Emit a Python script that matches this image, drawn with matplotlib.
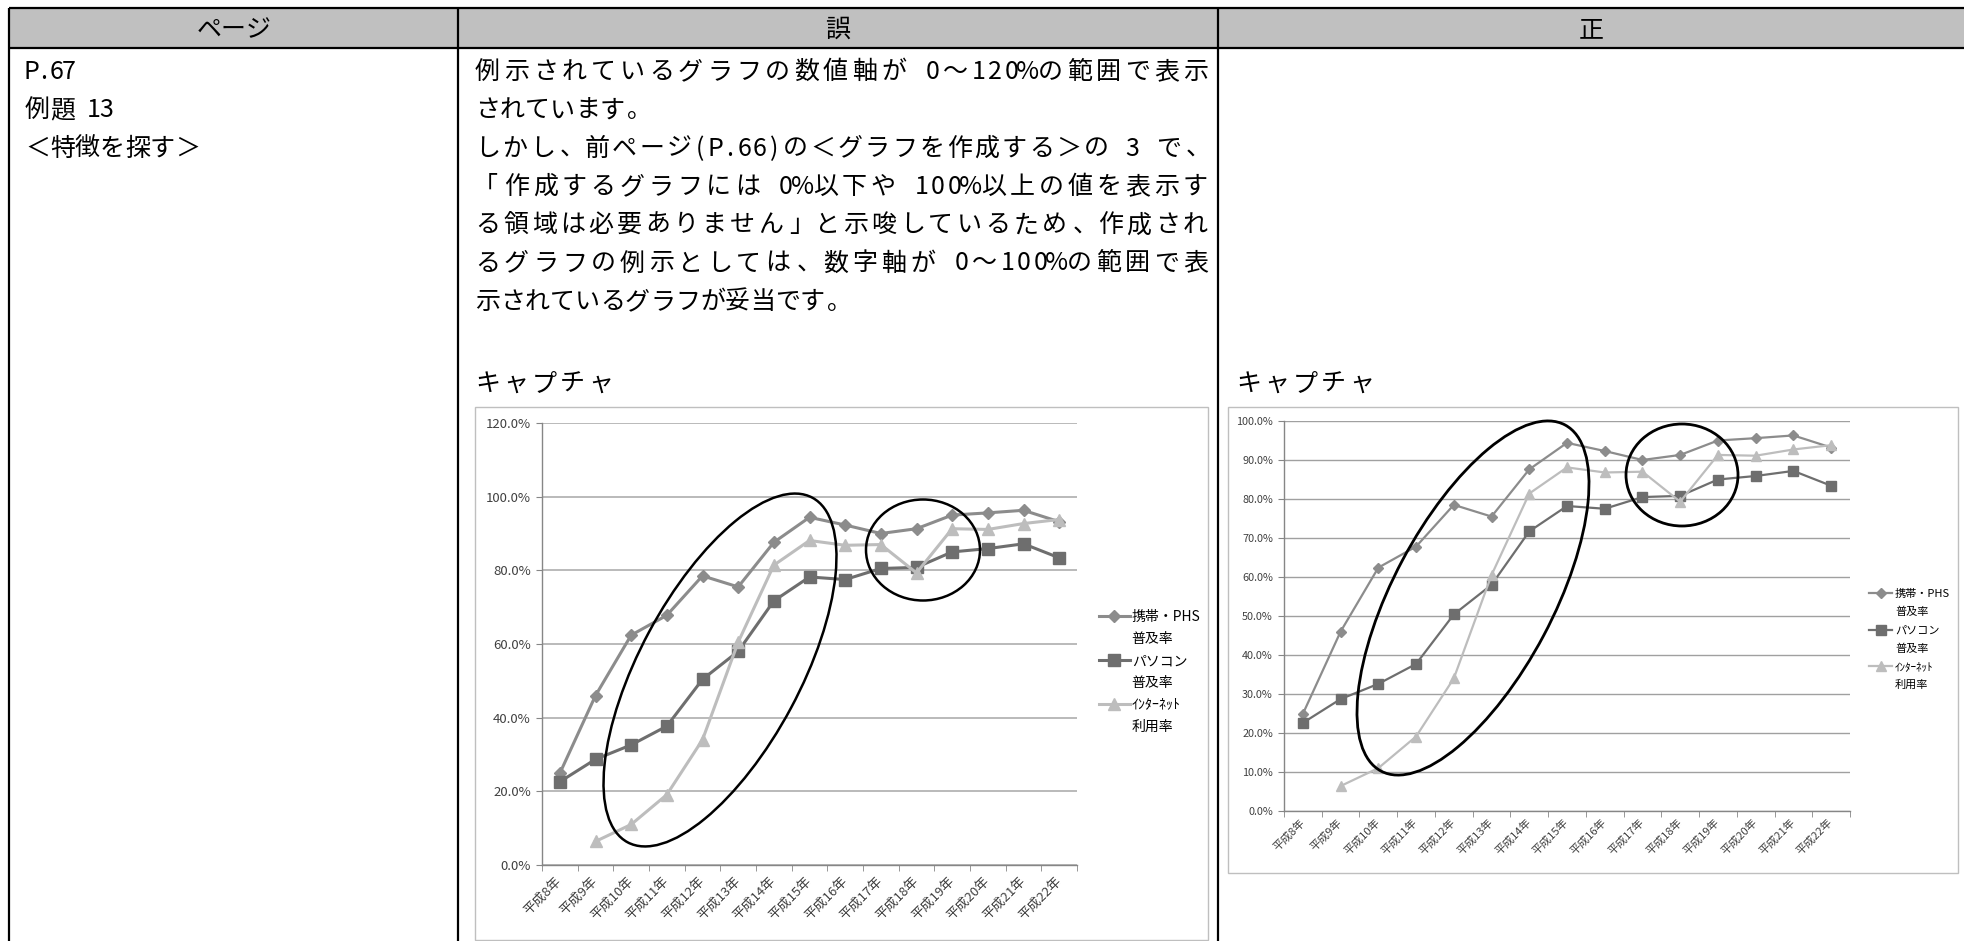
import numpy as np
import matplotlib
matplotlib.use('Agg')
import matplotlib.pyplot as plt
from matplotlib.patches import Ellipse, Rectangle
from matplotlib.lines import Line2D

plt.rcParams['font.family'] = ['Noto Sans CJK JP', 'DejaVu Sans']

# ── data ─────────────────────────────────────────────────────────────────────
years = ['平成8年', '平成9年', '平成10年', '平成11年', '平成12年', '平成13年',
         '平成14年', '平成15年', '平成16年', '平成17年', '平成18年', '平成19年',
         '平成20年', '平成21年', '平成22年']
mobile = [24.9, 46.0, 62.4, 67.8, 78.5, 75.5, 87.6, 94.4, 92.3, 90.0, 91.3, 95.0, 95.6, 96.3, 93.2]
pc = [22.6, 28.7, 32.6, 37.7, 50.4, 58.0, 71.7, 78.2, 77.5, 80.5, 80.8, 85.0, 85.9, 87.2, 83.4]
internet = [np.nan, 6.4, 11.0, 19.1, 34.0, 60.5, 81.4, 88.1, 86.8, 87.0, 79.3, 91.3, 91.1, 92.7, 93.8]

series_names = ['携帯・PHS', 'パソコン', 'ｲﾝﾀｰﾈｯﾄ']
series_sub = ['普及率', '普及率', '利用率']

header = ['ページ', '誤', '正']
page_lines = ['P.67', '例題 13', '＜特徴を探す＞']
wrong_lines = ['例示されているグラフの数値軸が 0〜120%の範囲で表示',
               'されています。',
               'しかし、前ページ(P.66)の＜グラフを作成する＞の 3 で、',
               '「作成するグラフには 0%以下や 100%以上の値を表示す',
               'る領域は必要ありません」と示唆しているため、作成され',
               'るグラフの例示としては、数字軸が 0〜100%の範囲で表',
               '示されているグラフが妥当です。']
justified = [True, False, True, True, True, True, False]
caption = 'キャプチャ'

# ── page layout (pixels) ─────────────────────────────────────────────────────
W, H = 1964, 941
fig = plt.figure(figsize=(W / 100, H / 100), dpi=100)
bg = fig.add_axes([0, 0, 1, 1])
bg.set_xlim(0, W)
bg.set_ylim(H, 0)
bg.axis('off')


def px_rect(x0, y0, x1, y1):
    return [x0 / W, 1 - y1 / H, (x1 - x0) / W, (y1 - y0) / H]


def is_wide(ch):
    o = ord(ch)
    return not (o < 0x80 or 0xFF61 <= o <= 0xFF9F)


def put_line(x0, yc, s, size, x1=None):
    em = size * 100 / 72
    cells = [em if is_wide(c) else em / 2 for c in s]
    gap = 0 if x1 is None else (x1 - x0 - sum(cells)) / (len(s) - 1)
    base = yc + 0.36 * em
    x = x0
    for c, w in zip(s, cells):
        if c in '、。」':
            bg.text(x + 0.1 * em, base, c, fontsize=size, ha='left', va='baseline')
        elif c in '「':
            bg.text(x + w - 0.1 * em, base, c, fontsize=size, ha='right', va='baseline')
        elif c != ' ':
            bg.text(x + w / 2, base, c, fontsize=size, ha='center', va='baseline')
        x += w + gap


# table
bg.add_patch(Rectangle((9, 8), W - 9, 40, facecolor='#c0c0c0', edgecolor='none'))
for y in (8, 48):
    bg.plot([9, W], [y, y], color='black', lw=1.6, solid_capstyle='butt')
for x in (9, 458, 1218):
    bg.plot([x, x], [8, H], color='black', lw=1.6, solid_capstyle='butt')

FS = 18
em = FS * 100 / 72
for cx, s in zip([234, 838, 1591], header):
    bg.text(cx, 28 + 0.36 * em, s, fontsize=FS, ha='center', va='baseline')

for i, s in enumerate(page_lines):
    put_line(25, 70 + 38.3 * i, s, FS)
for i, (s, j) in enumerate(zip(wrong_lines, justified)):
    put_line(475, 70 + 38.3 * i, s, FS, 1208 if j else None)

put_line(475, 382, caption, FS, 613)
put_line(1236, 382, caption, FS, 1374)

# chart frames
bg.add_patch(Rectangle((475, 407), 733, 533, facecolor='none', edgecolor='#bfbfbf', lw=1))
bg.add_patch(Rectangle((1228, 407), 730, 466, facecolor='none', edgecolor='#bfbfbf', lw=1))


def draw_chart(rect, ymax, ystep, lw, ms, fs_y, fs_x, xpad, grid_c, grid_lw,
               leg_anchor, leg_fs, leg_hl, leg_pad, leg_sp):
    ax = fig.add_axes(rect)
    x = np.arange(len(years))
    h1, = ax.plot(x, mobile, '-D', color='#8c8c8c', lw=lw, ms=ms[0], mec='#8c8c8c')
    h2, = ax.plot(x, pc, '-s', color='#6e6e6e', lw=lw, ms=ms[1], mec='#6e6e6e')
    h3, = ax.plot(x, internet, '-^', color='#bdbdbd', lw=lw, ms=ms[2], mec='#bdbdbd')

    ax.set_xlim(-0.5, len(years) - 0.5)
    ax.set_ylim(0, ymax)
    yt = np.arange(0, ymax + 0.1, ystep)
    ax.set_yticks(yt)
    ax.set_yticklabels([f'{v:.1f}%' for v in yt], fontsize=fs_y, color='#404040')
    ax.yaxis.grid(True, color=grid_c, lw=grid_lw)
    ax.set_axisbelow(True)

    ax.set_xticks(x)
    ax.set_xticklabels(years, fontsize=fs_x, color='#404040')
    ax.set_xticks(np.arange(-0.5, len(years), 1), minor=True)
    ax.tick_params(axis='x', which='major', length=0, pad=xpad)
    ax.tick_params(axis='x', which='minor', length=4, color='#868686')
    ax.tick_params(axis='y', length=4, color='#868686', pad=4)
    for lbl in ax.get_xticklabels():
        lbl.set_rotation(45)
        lbl.set_ha('right')
        lbl.set_va('center')
        lbl.set_rotation_mode('anchor')

    for side in ('top', 'right'):
        ax.spines[side].set_visible(False)
    for side in ('left', 'bottom'):
        ax.spines[side].set_color('#868686')
        ax.spines[side].set_linewidth(1)

    blank = Line2D([], [], linestyle='none', marker='none')
    handles, labels = [], []
    for h, name, sub in zip([h1, h2, h3], series_names, series_sub):
        handles += [h, blank]
        labels += [name, sub]
    fig.legend(handles, labels, loc='upper left', bbox_to_anchor=leg_anchor,
               bbox_transform=fig.transFigure, frameon=False, fontsize=leg_fs,
               borderpad=0, borderaxespad=0, handlelength=leg_hl,
               handletextpad=leg_pad, labelspacing=leg_sp)
    return ax


# 誤: 0〜120%
draw_chart(px_rect(542, 423, 1077, 865), 120, 20, 2.2, (6, 8.5, 8.5), 9.5, 9.5, 10,
           '#b4b4b4', 1.3, (1099 / W, 1 - 610 / H), 10, 2.2, 0.15, 0.58)
# 正: 0〜100%
draw_chart(px_rect(1284, 421, 1850, 811), 100, 10, 1.6, (5, 7, 7), 7.8, 8, 7,
           '#a0a0a0', 1.0, (1869 / W, 1 - 589 / H), 8, 2.1, 0.25, 0.72)

# ── hand-drawn ellipses on top ───────────────────────────────────────────────
ov = fig.add_axes([0, 0, 1, 1])
ov.set_xlim(0, W)
ov.set_ylim(H, 0)
ov.axis('off')
ov.patch.set_alpha(0)
marks = [((720, 670), 391, 161, -61.8, 1.8),
         ((923, 550), 114, 101, 0, 1.8),
         ((1473, 598), 392, 160, -62, 2.0),
         ((1682, 475), 112, 102, 0, 2.0)]
for c, w, h, a, lw in marks:
    ov.add_patch(Ellipse(c, w, h, angle=a, facecolor='none', edgecolor='black', lw=lw))

fig.savefig('out.png', dpi=100)
